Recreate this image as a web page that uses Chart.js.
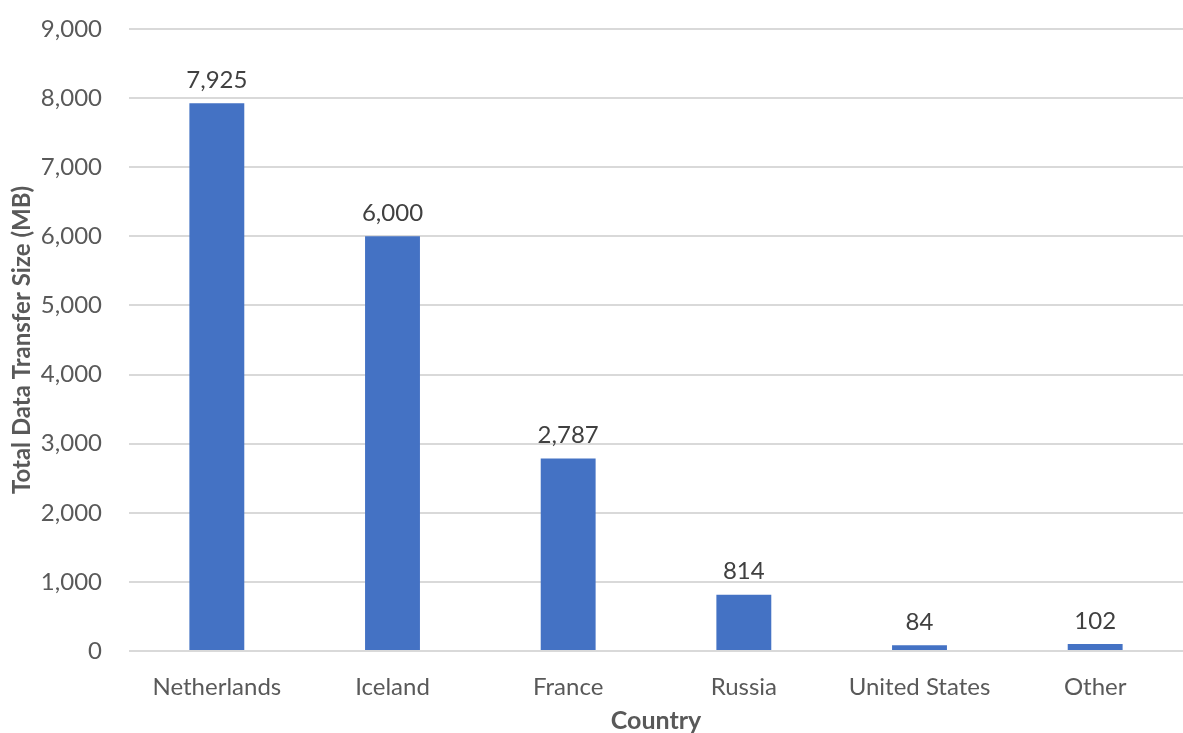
<!DOCTYPE html>
<html>
<head>
<meta charset="utf-8">
<script src="https://cdn.jsdelivr.net/npm/chart.js@4/dist/chart.umd.min.js"></script>
<style>
  html, body { margin: 0; padding: 0; background: #fff; }
  #wrap { width: 1183px; height: 733px; }
</style>
</head>
<body>
<div id="wrap"><canvas id="chart"></canvas></div>
<script>
const countries = ['Netherlands', 'Iceland', 'France', 'Russia', 'United States', 'Other'];
const transferMB = [7925, 6000, 2787, 814, 84, 102];
const yTicks = [0, 1000, 2000, 3000, 4000, 5000, 6000, 7000, 8000, 9000];

const FONT = 'Lato, "Open Sans", sans-serif';

// draw the value above each bar
const valueLabels = {
  id: 'valueLabels',
  afterDatasetsDraw(chart) {
    const ctx = chart.ctx;
    const meta = chart.getDatasetMeta(0);
    ctx.save();
    ctx.font = '24px ' + FONT;
    ctx.fillStyle = '#404040';
    ctx.textAlign = 'center';
    ctx.textBaseline = 'middle';
    meta.data.forEach((bar, i) => {
      ctx.fillText(transferMB[i].toLocaleString('en-US'), bar.x, bar.y - 23);
    });
    ctx.restore();
  }
};

new Chart(document.getElementById('chart').getContext('2d'), {
  type: 'bar',
  data: {
    labels: countries,
    datasets: [{
      data: transferMB,
      backgroundColor: '#4472C4',
      borderWidth: 0,
      barPercentage: 0.3125,
      categoryPercentage: 1,
    }],
  },
  options: {
    responsive: true,
    maintainAspectRatio: false,
    animation: { duration: 0 },
    layout: { padding: { top: 29, right: 0, left: 0, bottom: 0 } },
    plugins: {
      legend: { display: false },
      tooltip: { enabled: false },
    },
    scales: {
      x: {
        grid: { display: false },
        border: { display: false },
        ticks: {
          color: '#595959',
          font: { family: FONT, size: 24 },
          padding: 14,
        },
        title: {
          display: true,
          text: 'Country',
          color: '#595959',
          font: { family: FONT, size: 25, weight: 'bold', lineHeight: 1 },
          padding: { top: 0, bottom: 0 },
        },
        afterFit: (scale) => { scale.height = 82; },
      },
      y: {
        min: 0,
        max: 9000,
        afterBuildTicks: (scale) => {
          scale.ticks = yTicks.map(v => ({ value: v }));
        },
        grid: { color: '#d9d9d9', lineWidth: 2, drawTicks: false },
        border: { display: false },
        ticks: {
          color: '#595959',
          font: { family: FONT, size: 24 },
          padding: 27,
          callback: (v) => v.toLocaleString('en-US'),
        },
        title: {
          display: true,
          text: 'Total Data Transfer Size (MB)',
          color: '#595959',
          font: { family: FONT, size: 24, weight: 'bold', lineHeight: 1 },
          padding: { top: 10, bottom: 0 },
        },
        afterFit: (scale) => {
          scale.width = 129;
          scale.paddingTop = 0;
          scale.paddingBottom = 0;
        },
      },
    },
  },
  plugins: [valueLabels],
});
</script>
</body>
</html>
